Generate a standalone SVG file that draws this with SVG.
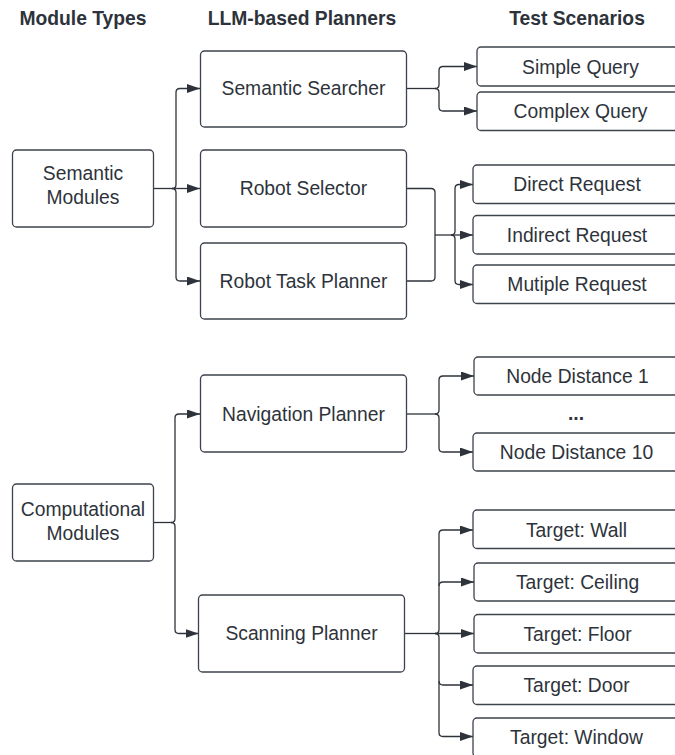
<svg xmlns="http://www.w3.org/2000/svg" width="675" height="755" viewBox="0 0 675 755">
  <style>
    .box { fill: #ffffff; stroke: #3d434c; stroke-width: 1.3; }
    .lbl { font-family: "Liberation Sans", Arial, sans-serif; font-size: 19.3px; fill: #2e333b; text-anchor: middle; }
    .hdr { font-family: "Liberation Sans", Arial, sans-serif; font-size: 19.3px; font-weight: bold; fill: #2e333b; text-anchor: middle; }
    .wire { fill: none; stroke: #2e333b; stroke-width: 1.3; }
    .arr { fill: none; stroke: #2e333b; stroke-width: 1.3; marker-end: url(#tip); }
  </style>
  <defs>
    <marker id="tip" markerUnits="userSpaceOnUse" markerWidth="14" markerHeight="10" refX="13" refY="4.5" orient="auto">
      <path d="M0,0 L13,4.5 L0,9 z" fill="#2e333b"/>
    </marker>
  </defs>
  <rect width="675" height="755" fill="#ffffff"/>

  <!-- column headings -->
  <g id="headers">
    <text class="hdr" x="83" y="25">Module Types</text>
    <text class="hdr" x="302" y="25">LLM-based Planners</text>
    <text class="hdr" x="577" y="25">Test Scenarios</text>
  </g>

  <!-- connectors -->
  <g id="connectors">
    <!-- Semantic Modules to planners -->
    <path class="wire" d="M154,188.5 H172"/>
    <path class="arr" d="M172,188.5 Q176,188.5 176,184.5 V92.5 Q176,88.5 180,88.5 H200"/>
    <path class="arr" d="M172,188.5 H200"/>
    <path class="arr" d="M172,188.5 Q176,188.5 176,192.5 V277 Q176,281 180,281 H200"/>
    <!-- Semantic Searcher to queries -->
    <path class="wire" d="M407,88.5 H435"/>
    <path class="arr" d="M435,88.5 Q439,88.5 439,84.5 V70.5 Q439,66.5 443,66.5 H477"/>
    <path class="arr" d="M435,88.5 Q439,88.5 439,92.5 V107 Q439,111 443,111 H477"/>
    <!-- Robot Selector + Robot Task Planner merged to requests -->
    <path class="wire" d="M407,188.5 H431 Q435,188.5 435,192.5 V277 Q435,281 431,281 H407"/>
    <path class="wire" d="M435,235 H451"/>
    <path class="arr" d="M451,235 Q455,235 455,231 V188.5 Q455,184.5 459,184.5 H473"/>
    <path class="arr" d="M451,235 H473"/>
    <path class="arr" d="M451,235 Q455,235 455,239 V280.5 Q455,284.5 459,284.5 H473"/>
    <!-- Computational Modules to planners -->
    <path class="wire" d="M154,522.5 H171"/>
    <path class="arr" d="M171,522.5 Q175,522.5 175,518.5 V418 Q175,414 179,414 H200"/>
    <path class="arr" d="M171,522.5 Q175,522.5 175,526.5 V629.5 Q175,633.5 179,633.5 H198.5"/>
    <!-- Navigation Planner to node distances -->
    <path class="wire" d="M407,414 H435"/>
    <path class="arr" d="M435,414 Q439,414 439,410 V380 Q439,376 443,376 H474"/>
    <path class="arr" d="M435,414 Q439,414 439,418 V448 Q439,452 443,452 H473"/>
    <!-- Scanning Planner to targets -->
    <path class="wire" d="M405,633.5 H435"/>
    <path class="arr" d="M435,633.5 Q439,633.5 439,629.5 V534 Q439,530 443,530 H473"/>
    <path class="arr" d="M439,586 Q439,582 443,582 H474"/>
    <path class="arr" d="M435,633.5 H474"/>
    <path class="arr" d="M439,681 Q439,685 443,685 H473"/>
    <path class="arr" d="M435,633.5 Q439,633.5 439,637.5 V732.5 Q439,736.5 443,736.5 H473"/>
  </g>

  <!-- module type nodes -->
  <g id="semantic-modules">
    <rect class="box" x="12.5" y="150" width="141" height="77" rx="4"/>
    <text class="lbl" x="83" y="180">Semantic</text>
    <text class="lbl" x="83" y="203.5">Modules</text>
  </g>
  <g id="computational-modules">
    <rect class="box" x="12.5" y="484" width="141" height="77" rx="4"/>
    <text class="lbl" x="83" y="516">Computational</text>
    <text class="lbl" x="83" y="539.5">Modules</text>
  </g>

  <!-- planner nodes -->
  <g id="semantic-searcher">
    <rect class="box" x="200.5" y="51" width="206" height="76" rx="4"/>
    <text class="lbl" x="303.5" y="95">Semantic Searcher</text>
  </g>
  <g id="robot-selector">
    <rect class="box" x="200.5" y="150" width="206" height="77" rx="4"/>
    <text class="lbl" x="303.5" y="195">Robot Selector</text>
  </g>
  <g id="robot-task-planner">
    <rect class="box" x="200.5" y="243" width="206" height="76" rx="4"/>
    <text class="lbl" x="303.5" y="287.5">Robot Task Planner</text>
  </g>
  <g id="navigation-planner">
    <rect class="box" x="200.5" y="375" width="206" height="77" rx="4"/>
    <text class="lbl" x="303.5" y="420.5">Navigation Planner</text>
  </g>
  <g id="scanning-planner">
    <rect class="box" x="198.5" y="595" width="206" height="77" rx="4"/>
    <text class="lbl" x="301.5" y="640">Scanning Planner</text>
  </g>

  <!-- scenario nodes -->
  <g id="simple-query">
    <rect class="box" x="477" y="47" width="208" height="39" rx="4"/>
    <text class="lbl" x="580.5" y="73.5">Simple Query</text>
  </g>
  <g id="complex-query">
    <rect class="box" x="477" y="92" width="208" height="38.5" rx="4"/>
    <text class="lbl" x="580.5" y="118">Complex Query</text>
  </g>
  <g id="direct-request">
    <rect class="box" x="473" y="165" width="208" height="38.5" rx="4"/>
    <text class="lbl" x="577" y="191">Direct Request</text>
  </g>
  <g id="indirect-request">
    <rect class="box" x="473" y="215.5" width="208" height="38.5" rx="4"/>
    <text class="lbl" x="577" y="241.5">Indirect Request</text>
  </g>
  <g id="multiple-request">
    <rect class="box" x="473" y="265" width="208" height="38.5" rx="4"/>
    <text class="lbl" x="577" y="291">Mutiple Request</text>
  </g>
  <g id="node-distance-1">
    <rect class="box" x="474" y="357" width="208" height="38" rx="4"/>
    <text class="lbl" x="577.5" y="383">Node Distance 1</text>
  </g>
  <g id="ellipsis">
    <text class="hdr" x="576" y="420">...</text>
  </g>
  <g id="node-distance-10">
    <rect class="box" x="473" y="433" width="208" height="38" rx="4"/>
    <text class="lbl" x="576.5" y="459">Node Distance 10</text>
  </g>
  <g id="target-wall">
    <rect class="box" x="473" y="510" width="208" height="38.5" rx="4"/>
    <text class="lbl" x="576.5" y="536.5">Target: Wall</text>
  </g>
  <g id="target-ceiling">
    <rect class="box" x="474" y="563" width="208" height="38" rx="4"/>
    <text class="lbl" x="577.5" y="589">Target: Ceiling</text>
  </g>
  <g id="target-floor">
    <rect class="box" x="474" y="614.5" width="208" height="38.5" rx="4"/>
    <text class="lbl" x="577.5" y="640.5">Target: Floor</text>
  </g>
  <g id="target-door">
    <rect class="box" x="473" y="666" width="208" height="38.5" rx="4"/>
    <text class="lbl" x="576.5" y="692">Target: Door</text>
  </g>
  <g id="target-window">
    <rect class="box" x="473" y="718" width="208" height="39" rx="4"/>
    <text class="lbl" x="576.5" y="744">Target: Window</text>
  </g>
</svg>
